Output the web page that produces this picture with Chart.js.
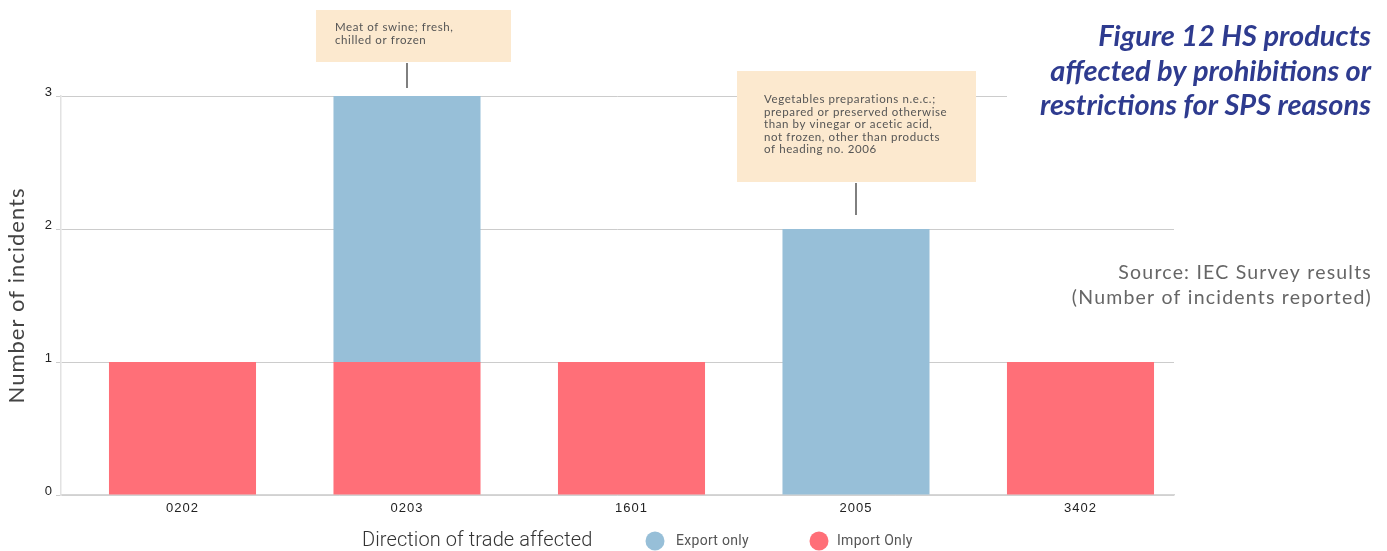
<!DOCTYPE html>
<html>
<head>
<meta charset="utf-8">
<script src="https://cdn.jsdelivr.net/npm/chart.js@4/dist/chart.umd.min.js"></script>
<style>
  html, body { margin: 0; padding: 0; background: #fff; }
  #wrap { position: relative; width: 1387px; height: 551px; }
  canvas { display: block; }
</style>
</head>
<body>
<div id="wrap"><canvas id="chart" width="1387" height="551"></canvas></div>
<script>
// HS product codes on the x axis
const categories = ['0202', '0203', '1601', '2005', '3402'];
// incidents per product, by direction of trade
const importOnly = [1, 1, 1, 0, 1];
const exportOnly = [0, 2, 0, 2, 0];
const yTicks = [0, 1, 2, 3];
const seriesNames = { importOnly: 'Import Only', exportOnly: 'Export only' };
const legendTitle = 'Direction of trade affected';
const yTitle = 'Number of incidents';
const titleLines = ['Figure 12 HS products', 'affected by prohibitions or', 'restrictions for SPS reasons'];
const sourceLines = ['Source: IEC Survey results', '(Number of incidents reported)'];
const notes = [
  { category: '0203', lines: ['Meat of swine; fresh,', 'chilled or frozen'] },
  { category: '2005', lines: ['Vegetables preparations n.e.c.;', 'prepared or preserved otherwise',
                              'than by vinegar or acetic acid,', 'not frozen, other than products',
                              'of heading no. 2006'] }
];

const RED = '#ff6f78';
const BLUE = '#97bfd8';

// callout box geometry, in the same order as notes
const noteBoxes = [
  { w: 195, h: 52, dx: -91, gap: 34, lineGap: 8, padL: 19 },
  { w: 239, h: 111, dx: -119, gap: 47, lineGap: 14, padL: 27 }
];

const toPoints = arr => arr.map((v, i) => ({ x: i, y: v }));

// axis texts are set slightly tracked
const trackingPlugin = {
  id: 'tracking',
  beforeDraw(chart) { chart.ctx.letterSpacing = '1px'; },
  beforeDatasetsDraw(chart) { chart.ctx.letterSpacing = '0px'; }
};

const calloutPlugin = {
  id: 'callouts',
  afterDatasetsDraw(chart) {
    const ctx = chart.ctx;
    const xs = chart.scales.x, ys = chart.scales.y;
    notes.forEach((n, k) => {
      const i = categories.indexOf(n.category);
      const b = noteBoxes[k];
      const px = xs.getPixelForValue(i);
      const top = ys.getPixelForValue(importOnly[i] + exportOnly[i]);
      const bottom = top - b.gap;
      const left = px + b.dx;
      ctx.save();
      ctx.fillStyle = '#fce9cf';
      ctx.fillRect(left, bottom - b.h, b.w, b.h);
      ctx.strokeStyle = '#555';
      ctx.lineWidth = 1.5;
      ctx.beginPath();
      ctx.moveTo(px, bottom + 1);
      ctx.lineTo(px, top - b.lineGap);
      ctx.stroke();
      ctx.fillStyle = '#555';
      ctx.font = '11.5px Lato';
      ctx.letterSpacing = '0.6px';
      ctx.textBaseline = 'middle';
      ctx.textAlign = 'left';
      const lh = 12.6;
      const cy = bottom - b.h / 2 - 2;
      const y0 = cy - (n.lines.length - 1) * lh / 2;
      n.lines.forEach((t, j) => ctx.fillText(t, left + b.padL, y0 + j * lh));
      ctx.restore();
    });
  }
};

const decorPlugin = {
  id: 'decor',
  afterDraw(chart) {
    const ctx = chart.ctx;
    ctx.save();
    // title block
    ctx.fillStyle = '#fff';
    ctx.fillRect(1007, 14, 380, 112);
    ctx.fillStyle = '#2e3b8f';
    ctx.font = 'italic bold 29px Lato';
    ctx.letterSpacing = '0px';
    ctx.textAlign = 'right';
    ctx.textBaseline = 'alphabetic';
    titleLines.forEach((t, j) => ctx.fillText(t, 1371, 46 + j * 34.5));
    // source note
    ctx.fillStyle = '#666';
    ctx.font = '19.5px Lato';
    ctx.letterSpacing = '1.2px';
    ctx.textBaseline = 'middle';
    sourceLines.forEach((t, j) => ctx.fillText(t, 1372, 273 + j * 25));
    // legend row
    const ly = 541;
    ctx.textAlign = 'left';
    ctx.fillStyle = '#333';
    ctx.font = '300 20px Roboto';
    ctx.letterSpacing = '0.1px';
    ctx.fillText(legendTitle, 362, ly);
    const items = chart.data.datasets.slice().reverse();
    const cx = [655, 819];
    const tx = [676, 837];
    items.forEach((d, j) => {
      ctx.fillStyle = d.backgroundColor;
      ctx.beginPath();
      ctx.arc(cx[j], ly, 9.5, 0, Math.PI * 2);
      ctx.fill();
      ctx.fillStyle = '#555';
      ctx.font = '14px Roboto';
      ctx.letterSpacing = '0.3px';
      ctx.fillText(d.label, tx[j], ly);
    });
    ctx.restore();
  }
};

new Chart(document.getElementById('chart'), {
  type: 'bar',
  data: {
    datasets: [
      { label: seriesNames.importOnly, data: toPoints(importOnly), backgroundColor: RED },
      { label: seriesNames.exportOnly, data: toPoints(exportOnly), backgroundColor: BLUE }
    ]
  },
  options: {
    responsive: false,
    animation: false,
    devicePixelRatio: 1,
    categoryPercentage: 1,
    barPercentage: 0.655,
    layout: { padding: { top: 96, right: 213, bottom: 0, left: 0 } },
    plugins: { legend: { display: false }, tooltip: { enabled: false }, title: { display: false } },
    scales: {
      x: {
        type: 'linear',
        stacked: true,
        offset: false,
        min: -0.5412,
        max: 4.4165,
        afterBuildTicks: s => { s.ticks = categories.map((c, i) => ({ value: i })); },
        afterFit: s => { s.height = 56; },
        grid: { display: false },
        border: { display: true, color: '#d6d6d6', width: 1.5 },
        ticks: {
          padding: -2,
          color: '#222',
          font: { family: 'Liberation Sans', size: 13 },
          callback: v => categories[v] ?? ''
        }
      },
      y: {
        stacked: true,
        min: 0,
        max: 3,
        afterBuildTicks: s => { s.ticks = yTicks.map(v => ({ value: v })); },
        afterFit: s => { s.width = 61; },
        grid: { color: '#cccccc', lineWidth: 1, tickLength: 5 },
        border: { display: true, color: '#e2e2e2', width: 1.5 },
        title: {
          display: true,
          text: yTitle,
          color: '#444',
          font: { family: 'Lato', size: 22 },
          padding: { top: 4, bottom: 0 }
        },
        ticks: {
          padding: 3,
          labelOffset: -4,
          color: '#222',
          font: { family: 'Liberation Sans', size: 13 }
        }
      }
    }
  },
  plugins: [trackingPlugin, calloutPlugin, decorPlugin]
});
</script>
</body>
</html>
